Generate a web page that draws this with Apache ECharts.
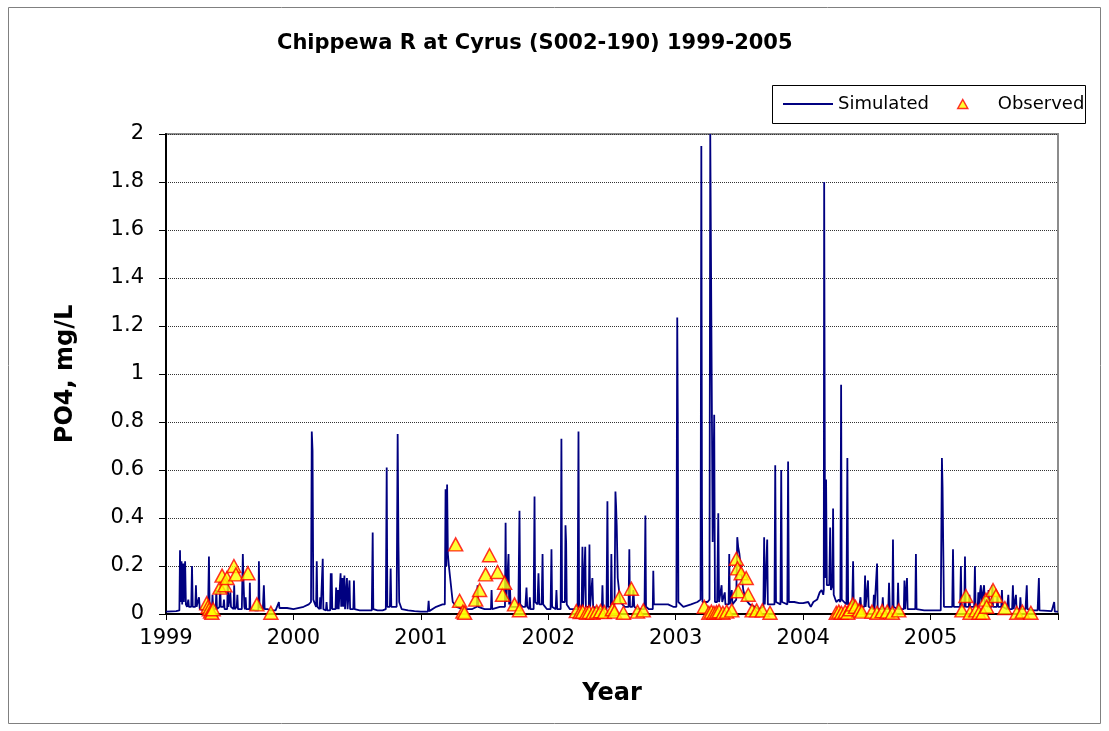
<!DOCTYPE html>
<html>
<head>
<meta charset="utf-8">
<script src="https://cdn.jsdelivr.net/npm/echarts@6/dist/echarts.min.js"></script>
<style>
html,body{margin:0;padding:0;background:#fff;}
#chart{width:1109px;height:731px;}
</style>
</head>
<body>
<div id="chart"></div>
<script>
// ---- Data (decimal year, mg/L) ----
const chartTitle = 'Chippewa R at Cyrus (S002-190) 1999-2005';
const yearTicks = [1999, 2000, 2001, 2002, 2003, 2004, 2005];

const simulated = [
[1999.000,0.010],[1999.080,0.012],[1999.105,0.015],[1999.110,0.266],[1999.115,0.05],[1999.122,0.22],[1999.127,0.04],
[1999.135,0.21],[1999.140,0.05],[1999.150,0.22],[1999.156,0.04],[1999.165,0.03],[1999.175,0.06],[1999.180,0.03],
[1999.198,0.03],[1999.204,0.20],[1999.210,0.03],[1999.230,0.03],[1999.235,0.12],[1999.240,0.03],[1999.255,0.03],
[1999.259,0.07],[1999.265,0.02],[1999.300,0.015],[1999.330,0.015],[1999.337,0.24],[1999.342,0.03],[1999.360,0.02],
[1999.365,0.08],[1999.370,0.02],[1999.390,0.02],[1999.395,0.10],[1999.400,0.02],[1999.420,0.03],[1999.425,0.13],
[1999.430,0.03],[1999.450,0.03],[1999.455,0.06],[1999.460,0.02],[1999.480,0.02],[1999.485,0.14],[1999.490,0.03],
[1999.500,0.03],[1999.505,0.09],[1999.510,0.03],[1999.530,0.02],[1999.535,0.12],[1999.540,0.02],[1999.555,0.03],
[1999.560,0.08],[1999.565,0.02],[1999.595,0.02],[1999.603,0.25],[1999.608,0.14],[1999.615,0.03],[1999.620,0.02],
[1999.625,0.07],[1999.630,0.02],[1999.655,0.02],[1999.658,0.13],[1999.662,0.02],[1999.700,0.015],[1999.725,0.015],
[1999.729,0.22],[1999.734,0.03],[1999.760,0.02],[1999.768,0.12],[1999.774,0.02],[1999.800,0.02],[1999.820,0.015],
[1999.860,0.015],[1999.886,0.05],[1999.890,0.025],[1999.950,0.025],[2000.000,0.02],[2000.080,0.03],[2000.120,0.04],
[2000.138,0.05],[2000.144,0.76],[2000.150,0.68],[2000.156,0.06],[2000.170,0.04],[2000.178,0.03],[2000.183,0.22],
[2000.188,0.03],[2000.205,0.02],[2000.210,0.07],[2000.215,0.02],[2000.225,0.02],[2000.230,0.23],[2000.235,0.02],
[2000.255,0.015],[2000.260,0.05],[2000.265,0.015],[2000.288,0.015],[2000.293,0.17],[2000.296,0.02],[2000.300,0.17],
[2000.305,0.02],[2000.330,0.02],[2000.335,0.11],[2000.340,0.02],[2000.350,0.10],[2000.355,0.02],[2000.365,0.02],
[2000.370,0.17],[2000.375,0.03],[2000.385,0.15],[2000.390,0.03],[2000.400,0.16],[2000.405,0.02],[2000.420,0.15],
[2000.425,0.02],[2000.440,0.14],[2000.445,0.02],[2000.470,0.02],[2000.475,0.14],[2000.480,0.02],[2000.520,0.015],
[2000.550,0.015],[2000.615,0.015],[2000.622,0.34],[2000.627,0.02],[2000.660,0.015],[2000.700,0.015],[2000.725,0.02],
[2000.732,0.61],[2000.737,0.03],[2000.757,0.03],[2000.763,0.19],[2000.768,0.03],[2000.810,0.03],[2000.818,0.75],
[2000.824,0.30],[2000.830,0.05],[2000.850,0.02],[2000.900,0.015],[2000.950,0.012],[2001.000,0.01],[2001.055,0.01],
[2001.061,0.055],[2001.066,0.012],[2001.120,0.03],[2001.170,0.04],[2001.188,0.04],[2001.194,0.52],[2001.200,0.20],
[2001.206,0.54],[2001.212,0.25],[2001.220,0.20],[2001.230,0.15],[2001.250,0.05],[2001.280,0.03],[2001.330,0.02],
[2001.400,0.02],[2001.440,0.03],[2001.445,0.12],[2001.450,0.03],[2001.500,0.02],[2001.550,0.02],[2001.555,0.10],
[2001.560,0.02],[2001.620,0.03],[2001.660,0.03],[2001.665,0.38],[2001.670,0.05],[2001.683,0.05],[2001.688,0.25],
[2001.693,0.04],[2001.700,0.10],[2001.705,0.03],[2001.765,0.03],[2001.774,0.43],[2001.780,0.04],[2001.800,0.03],
[2001.820,0.03],[2001.829,0.11],[2001.835,0.03],[2001.850,0.02],[2001.855,0.07],[2001.860,0.02],[2001.885,0.02],
[2001.892,0.49],[2001.897,0.05],[2001.915,0.04],[2001.923,0.17],[2001.930,0.04],[2001.948,0.04],[2001.955,0.25],
[2001.960,0.04],[2001.990,0.02],[2002.018,0.02],[2002.025,0.27],[2002.030,0.03],[2002.058,0.02],[2002.064,0.10],
[2002.070,0.02],[2002.097,0.02],[2002.103,0.73],[2002.108,0.05],[2002.130,0.05],[2002.135,0.37],[2002.140,0.30],
[2002.145,0.04],[2002.170,0.02],[2002.200,0.02],[2002.230,0.02],[2002.237,0.76],[2002.242,0.03],[2002.262,0.03],
[2002.268,0.28],[2002.273,0.03],[2002.285,0.03],[2002.290,0.28],[2002.295,0.03],[2002.318,0.03],[2002.323,0.29],
[2002.328,0.03],[2002.340,0.03],[2002.346,0.15],[2002.352,0.03],[2002.400,0.02],[2002.420,0.02],[2002.425,0.12],
[2002.430,0.02],[2002.457,0.02],[2002.464,0.47],[2002.470,0.03],[2002.490,0.03],[2002.495,0.25],[2002.500,0.05],
[2002.520,0.04],[2002.527,0.51],[2002.532,0.45],[2002.537,0.37],[2002.545,0.15],[2002.555,0.10],[2002.565,0.05],
[2002.600,0.03],[2002.630,0.03],[2002.636,0.27],[2002.641,0.03],[2002.660,0.03],[2002.668,0.10],[2002.675,0.03],
[2002.700,0.02],[2002.755,0.02],[2002.762,0.41],[2002.767,0.03],[2002.790,0.02],[2002.820,0.02],[2002.824,0.18],
[2002.829,0.04],[2002.870,0.04],[2002.940,0.04],[2002.980,0.03],[2003.005,0.03],[2003.012,1.235],[2003.016,0.84],
[2003.021,0.05],[2003.060,0.03],[2003.120,0.04],[2003.170,0.05],[2003.195,0.06],[2003.201,1.95],[2003.206,0.44],
[2003.210,0.05],[2003.250,0.05],[2003.265,0.06],[2003.271,2.0],[2003.276,2.0],[2003.290,0.30],[2003.302,0.83],
[2003.308,0.05],[2003.325,0.05],[2003.334,0.42],[2003.340,0.05],[2003.360,0.12],[2003.365,0.05],[2003.385,0.09],
[2003.390,0.04],[2003.415,0.04],[2003.420,0.25],[2003.425,0.04],[2003.440,0.10],[2003.445,0.04],[2003.475,0.06],
[2003.483,0.32],[2003.490,0.28],[2003.500,0.25],[2003.510,0.20],[2003.520,0.15],[2003.530,0.10],[2003.550,0.06],
[2003.580,0.04],[2003.620,0.03],[2003.650,0.02],[2003.688,0.03],[2003.694,0.32],[2003.699,0.04],[2003.713,0.04],
[2003.718,0.31],[2003.723,0.04],[2003.775,0.04],[2003.781,0.62],[2003.787,0.05],[2003.822,0.04],[2003.828,0.60],
[2003.834,0.05],[2003.876,0.04],[2003.882,0.635],[2003.888,0.05],[2003.930,0.05],[2003.970,0.045],[2004.000,0.045],
[2004.040,0.05],[2004.060,0.03],[2004.080,0.05],[2004.110,0.06],[2004.130,0.09],[2004.145,0.10],[2004.158,0.08],
[2004.162,0.10],[2004.165,1.80],[2004.172,0.15],[2004.180,0.56],[2004.186,0.12],[2004.205,0.12],[2004.212,0.36],
[2004.218,0.10],[2004.230,0.12],[2004.235,0.44],[2004.240,0.08],[2004.260,0.05],[2004.280,0.06],[2004.292,0.05],
[2004.298,0.955],[2004.303,0.06],[2004.340,0.04],[2004.347,0.65],[2004.353,0.04],[2004.385,0.04],[2004.392,0.22],
[2004.397,0.04],[2004.440,0.03],[2004.450,0.07],[2004.455,0.03],[2004.480,0.03],[2004.486,0.16],[2004.490,0.03],
[2004.505,0.03],[2004.509,0.14],[2004.514,0.03],[2004.550,0.02],[2004.555,0.08],[2004.560,0.02],[2004.575,0.02],
[2004.580,0.21],[2004.585,0.02],[2004.620,0.02],[2004.625,0.07],[2004.630,0.02],[2004.668,0.02],[2004.674,0.13],
[2004.680,0.02],[2004.700,0.02],[2004.705,0.31],[2004.710,0.03],[2004.740,0.02],[2004.745,0.13],[2004.750,0.02],
[2004.790,0.02],[2004.795,0.14],[2004.800,0.02],[2004.810,0.02],[2004.815,0.15],[2004.820,0.02],[2004.880,0.02],
[2004.885,0.25],[2004.890,0.02],[2004.950,0.015],[2005.000,0.015],[2005.080,0.015],[2005.089,0.65],[2005.094,0.53],
[2005.099,0.30],[2005.105,0.03],[2005.130,0.03],[2005.170,0.03],[2005.176,0.27],[2005.182,0.03],[2005.232,0.03],
[2005.238,0.20],[2005.243,0.03],[2005.265,0.03],[2005.270,0.24],[2005.275,0.03],[2005.300,0.03],[2005.305,0.08],
[2005.310,0.03],[2005.342,0.03],[2005.348,0.20],[2005.353,0.03],[2005.370,0.03],[2005.375,0.09],[2005.380,0.04],
[2005.390,0.10],[2005.395,0.12],[2005.400,0.05],[2005.420,0.12],[2005.425,0.04],[2005.450,0.03],[2005.455,0.10],
[2005.460,0.03],[2005.480,0.03],[2005.485,0.12],[2005.490,0.03],[2005.520,0.03],[2005.525,0.08],[2005.530,0.03],
[2005.555,0.03],[2005.560,0.10],[2005.565,0.03],[2005.600,0.02],[2005.610,0.08],[2005.615,0.02],[2005.640,0.02],
[2005.646,0.12],[2005.652,0.02],[2005.665,0.02],[2005.670,0.08],[2005.675,0.02],[2005.700,0.02],[2005.705,0.07],
[2005.710,0.02],[2005.745,0.02],[2005.755,0.12],[2005.760,0.02],[2005.800,0.015],[2005.840,0.015],[2005.850,0.15],
[2005.855,0.015],[2005.950,0.012],[2005.970,0.05],[2005.975,0.01],[2006.000,0.01]
];

const observed = [
[1999.320,0.045],[1999.330,0.03],[1999.340,0.02],[1999.350,0.01],[1999.360,0.005],[1999.370,0.02],
[1999.423,0.11],[1999.440,0.16],[1999.462,0.12],[1999.478,0.15],[1999.533,0.20],[1999.549,0.165],
[1999.643,0.17],[1999.713,0.04],[1999.823,0.005],
[2001.273,0.29],[2001.304,0.055],[2001.330,0.01],[2001.343,0.005],[2001.430,0.06],[2001.461,0.10],
[2001.508,0.165],[2001.539,0.245],[2001.602,0.175],[2001.641,0.08],[2001.657,0.13],[2001.735,0.04],[2001.774,0.016],
[2002.220,0.012],[2002.250,0.008],[2002.270,0.01],[2002.300,0.005],[2002.320,0.008],[2002.350,0.005],
[2002.380,0.01],[2002.410,0.012],[2002.440,0.008],[2002.503,0.02],[2002.520,0.01],[2002.558,0.07],
[2002.590,0.005],[2002.652,0.105],[2002.700,0.01],[2002.746,0.015],
[2003.224,0.03],[2003.260,0.005],[2003.280,0.01],[2003.300,0.005],[2003.320,0.008],[2003.340,0.012],
[2003.370,0.005],[2003.400,0.01],[2003.440,0.015],[2003.476,0.23],[2003.485,0.19],[2003.490,0.095],
[2003.514,0.17],[2003.553,0.15],[2003.569,0.08],[2003.600,0.015],[2003.635,0.015],[2003.680,0.015],[2003.740,0.005],
[2004.260,0.005],[2004.280,0.01],[2004.300,0.005],[2004.330,0.01],[2004.350,0.005],[2004.370,0.02],
[2004.390,0.04],[2004.410,0.03],[2004.440,0.015],[2004.460,0.01],[2004.540,0.01],[2004.580,0.005],
[2004.620,0.012],[2004.660,0.01],[2004.700,0.005],[2004.750,0.015],
[2005.246,0.015],[2005.277,0.075],[2005.310,0.005],[2005.356,0.015],[2005.380,0.005],[2005.410,0.005],
[2005.434,0.06],[2005.440,0.03],[2005.490,0.10],[2005.513,0.075],[2005.583,0.025],[2005.677,0.005],
[2005.720,0.01],[2005.787,0.005]
];

const FONT = 'DejaVu Sans';
const chart = echarts.init(document.getElementById('chart'));
chart.setOption({
  animation: false,
  backgroundColor: '#ffffff',
  title: {
    text: chartTitle,
    left: 272, top: 28,
    textStyle: { fontFamily: FONT, fontSize: 21, fontWeight: 'bold', color: '#000' }
  },
  graphic: [
    { type: 'rect', z: -10, silent: true,
      shape: { x: 8.5, y: 7.5, width: 1092, height: 716 },
      style: { fill: 'none', stroke: '#808080', lineWidth: 1 } },
    { type: 'rect', z: 5, silent: true,
      shape: { x: 772.5, y: 85.5, width: 313, height: 38 },
      style: { fill: '#fff', stroke: '#000', lineWidth: 1 } }
  ],
  legend: [
    {
      left: 783, top: 95, padding: 0, z: 10,
      itemWidth: 50, itemHeight: 9,
      textStyle: { fontFamily: FONT, fontSize: 18, color: '#000' },
      data: [{ name: 'Simulated', icon: 'path://M0,0H50V2H0Z', itemStyle: { color: '#000080', borderWidth: 0 } }]
    },
    {
      left: 957, top: 95, padding: 0, z: 10,
      itemWidth: 10, itemHeight: 9,
      textStyle: { fontFamily: FONT, fontSize: 18, color: '#000', padding: [0, 0, 0, 25] },
      data: [{ name: 'Observed', icon: 'path://M5,0L10,9H0Z', itemStyle: { color: '#FFFF00', borderColor: '#FF0000', borderWidth: 1.5 } }]
    }
  ],
  grid: {
    left: 166, right: 51, top: 134, bottom: 117,
    show: true, borderColor: '#8c8c8c', borderWidth: 2, backgroundColor: 'transparent'
  },
  xAxis: {
    type: 'value', min: 1999, max: 2006, interval: 1,
    name: 'Year', nameLocation: 'middle', nameGap: 68,
    nameTextStyle: { fontFamily: FONT, fontSize: 24, fontWeight: 'bold', color: '#000' },
    axisLine: { onZero: false, lineStyle: { color: '#000', width: 2 } },
    axisTick: { show: true, length: 6, lineStyle: { color: '#000', width: 1 } },
    axisLabel: {
      margin: 14, fontFamily: FONT, fontSize: 21, color: '#000',
      formatter: v => (yearTicks.indexOf(v) >= 0 ? String(v) : '')
    },
    splitLine: { show: false }
  },
  yAxis: {
    type: 'value', min: 0, max: 2, interval: 0.2,
    name: 'PO4, mg/L', nameLocation: 'middle', nameRotate: 90, nameGap: 88,
    nameTextStyle: { fontFamily: FONT, fontSize: 24, fontWeight: 'bold', color: '#000' },
    axisLine: { show: true, lineStyle: { color: '#000', width: 2 } },
    axisTick: { show: true, inside: false, length: 7, lineStyle: { color: '#000', width: 1 } },
    axisLabel: { margin: 22, fontFamily: FONT, fontSize: 21, color: '#000',
      formatter: v => String(Math.round(v * 10) / 10) },
    splitLine: { show: true, lineStyle: { color: '#333', type: [1, 1], width: 1 } }
  },
  series: [
    {
      name: 'Simulated', type: 'line', data: simulated,
      symbol: 'none', showSymbol: false, clip: true,
      lineStyle: { color: '#000080', width: 1.8 },
      itemStyle: { color: '#000080' }, z: 2
    },
    {
      name: 'Observed', type: 'scatter', data: observed,
      symbol: 'triangle', symbolSize: [14, 13],
      itemStyle: { color: '#FFFF00', borderColor: '#FF0000', borderWidth: 1.5 },
      z: 3
    }
  ]
});
</script>
</body>
</html>
